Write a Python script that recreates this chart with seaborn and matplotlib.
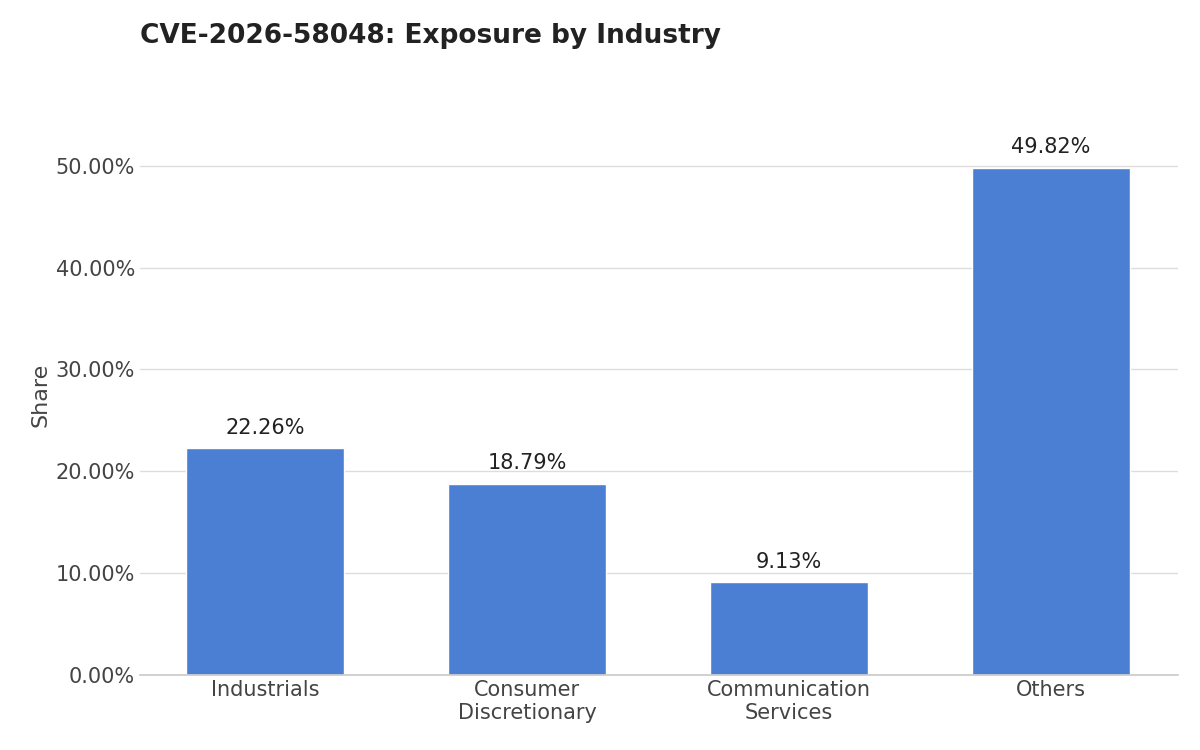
import matplotlib
matplotlib.use("Agg")
import pandas as pd
import seaborn as sns
from matplotlib import pyplot as plt
from matplotlib.ticker import FuncFormatter

industries = ["Industrials", "Consumer\nDiscretionary", "Communication\nServices", "Others"]
shares = [22.26, 18.79, 9.13, 49.82]

sns.set_theme(style="whitegrid")
plt.rcParams["font.family"] = ["DejaVu Sans"]

df = pd.DataFrame({"industry": industries, "share": shares})

fig = plt.figure(figsize=(12, 7.5), dpi=100)
ax = fig.add_axes([0.1167, 0.1, 0.865, 0.747])
sns.barplot(data=df, x="industry", y="share", color="#4A7FD4", width=0.6, saturation=1, ax=ax)

for i, v in enumerate(shares):
    ax.text(i, v + 1.0, f"{v:.2f}%", ha="center", va="bottom", fontsize=15, color="#222222")

ax.set_ylim(0, 55)
ax.set_xlim(-0.477, 3.485)
ax.set_yticks([0, 10, 20, 30, 40, 50])
ax.yaxis.set_major_formatter(FuncFormatter(lambda y, _: f"{y:.2f}%"))
ax.tick_params(axis="both", labelsize=15, colors="#444444", length=0)
ax.set_xlabel("")
ax.set_ylabel("Share", fontsize=16, color="#444444")
ax.grid(axis="x", visible=False)
ax.grid(axis="y", color="#dddddd", linewidth=1)
for s in ["left", "right", "top"]:
    ax.spines[s].set_visible(False)
ax.spines["bottom"].set_color("#cccccc")

fig.text(0.1167, 0.952, "CVE-2026-58048: Exposure by Industry", fontsize=19, fontweight="bold",
         color="#222222", ha="left", va="center")

fig.savefig("out.png", dpi=100)
